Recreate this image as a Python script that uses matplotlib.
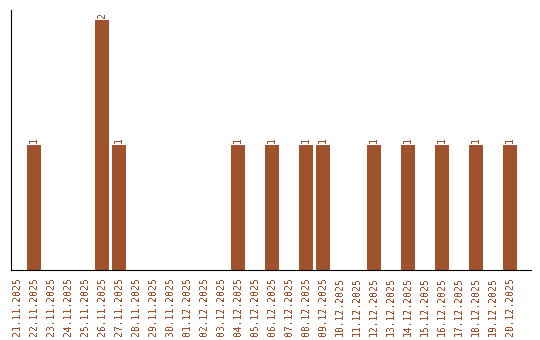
import matplotlib
matplotlib.use('Agg')
import matplotlib.pyplot as plt

dates = ['21.11.2025', '22.11.2025', '23.11.2025', '24.11.2025', '25.11.2025',
         '26.11.2025', '27.11.2025', '28.11.2025', '29.11.2025', '30.11.2025',
         '01.12.2025', '02.12.2025', '03.12.2025', '04.12.2025', '05.12.2025',
         '06.12.2025', '07.12.2025', '08.12.2025', '09.12.2025', '10.12.2025',
         '11.12.2025', '12.12.2025', '13.12.2025', '14.12.2025', '15.12.2025',
         '16.12.2025', '17.12.2025', '18.12.2025', '19.12.2025', '20.12.2025']
counts = [0, 1, 0, 0, 0, 2, 1, 0, 0, 0,
          0, 0, 0, 1, 0, 1, 0, 1, 1, 0,
          0, 1, 0, 1, 0, 1, 0, 1, 0, 1]

bar_color = '#a0522d'
font = 'DejaVu Sans Mono'
plt.rcParams['text.antialiased'] = False

fig = plt.figure(figsize=(5.4, 3.4), dpi=100)
ax = fig.add_axes([11/540, 70/340, 520/540, 260/340])

x = list(range(len(dates)))
bars = ax.bar(x, counts, width=0.82, color=bar_color)

for rect, val in zip(bars, counts):
    if val > 0:
        ax.text(rect.get_x() + rect.get_width()/2, val + 0.02, str(val),
                rotation=90, ha='center', va='bottom', color=bar_color,
                fontsize=7, family=font)

ax.set_xlim(-0.35, 30.24)
ax.set_ylim(0, 2.08)
ax.set_xticks(x)
ax.set_xticklabels(dates, rotation=90, color=bar_color, fontsize=7, family=font)
ax.tick_params(axis='x', length=0, pad=5)
ax.set_yticks([])
ax.spines['top'].set_visible(False)
ax.spines['right'].set_visible(False)

fig.savefig('out.png', dpi=100)
